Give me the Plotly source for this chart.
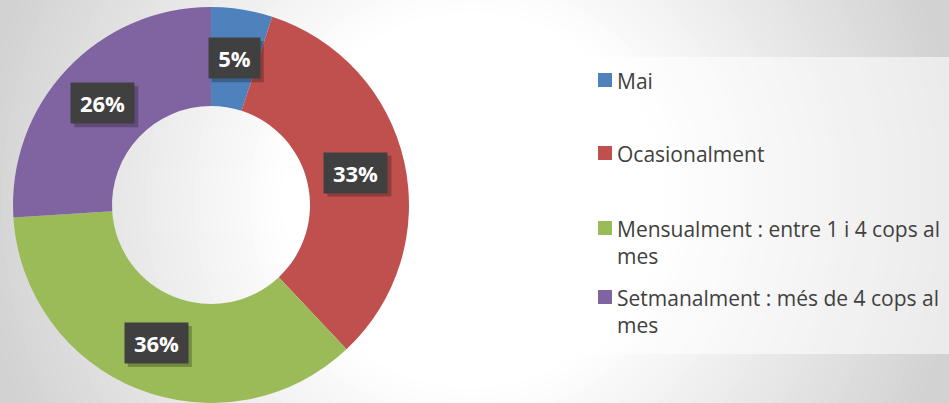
import math
import textwrap
import plotly.graph_objects as go

# ---- data ----
categories = [
    "Mai",
    "Ocasionalment",
    "Mensualment : entre 1 i 4 cops al mes",
    "Setmanalment : més de 4 cops al mes",
]
values = [5, 33, 36, 26]
colors = ["#4F81BD", "#C0504D", "#9BBB59", "#8064A2"]

# ---- canvas geometry (pixels) ----
W, H = 949, 403
CX, CY, R = 211, 205, 198
HOLE = 0.5


def px(x):
    return x / W


def py(y):
    return 1 - y / H


fig = go.Figure()
fig.add_trace(go.Pie(
    labels=categories,
    values=values,
    marker=dict(colors=colors, line=dict(width=0)),
    hole=HOLE,
    sort=False,
    direction="clockwise",
    rotation=0,
    textinfo="none",
    hoverinfo="label+percent",
    showlegend=False,
    domain=dict(x=[px(CX - R), px(CX + R)], y=[py(CY + R), py(CY - R)]),
))

shapes = []
# radial background gradient
GCX, GCY = 470, 200
r = 620
while r >= 170:
    t = min(1.0, max(0.0, (r - 190) / (500 - 190)))
    g = int(round(255 - t * (255 - 210)))
    shapes.append(dict(type="circle", xref="paper", yref="paper", layer="below",
                       x0=px(GCX - r), x1=px(GCX + r), y0=py(GCY + r), y1=py(GCY - r),
                       fillcolor=f"rgb({g},{g},{g})", line=dict(width=0)))
    r -= 8

# legend box
shapes.append(dict(type="rect", xref="paper", yref="paper", layer="below",
                   x0=px(586), x1=px(W + 5), y0=py(354), y1=py(57),
                   fillcolor="rgba(255,255,255,0.55)", line=dict(width=0)))

annotations = []
# data labels (dark boxes) at the middle of each ring segment
total = sum(values)
cum = 0
r_mid = R * (1 + HOLE) / 2
PAD = 7
for v in values:
    mid = (cum + v / 2) / total * 2 * math.pi
    cum += v
    lx = CX + r_mid * math.sin(mid)
    ly = CY - r_mid * math.cos(mid)
    txt = f"{round(v / total * 100)}%"
    tw = 12 * len(txt) + 13
    th = 26
    bw, bh = tw + 2 * PAD, th + 2 * PAD
    # soft drop shadow
    shapes.append(dict(type="rect", xref="paper", yref="paper", layer="above",
                       x0=px(lx - bw / 2 + 3), x1=px(lx + bw / 2 + 4),
                       y0=py(ly + bh / 2 + 4), y1=py(ly - bh / 2 + 3),
                       fillcolor="rgba(0,0,0,0.25)", line=dict(width=0)))
    annotations.append(dict(x=px(lx), y=py(ly), xref="paper", yref="paper",
                            xanchor="center", yanchor="middle",
                            width=tw, height=th,
                            text=f"<b>{txt}</b>", showarrow=False,
                            font=dict(family="Open Sans", size=22, color="white"),
                            bgcolor="#404040", borderpad=PAD))

# manual legend
legend_y = [80, 153, 228, 297]
for cat, col, yy in zip(categories, colors, legend_y):
    shapes.append(dict(type="rect", xref="paper", yref="paper",
                       x0=px(598), x1=px(612), y0=py(yy + 7), y1=py(yy - 7),
                       fillcolor=col, line=dict(width=0)))
    lines = textwrap.wrap(cat, width=34)
    annotations.append(dict(x=px(615), y=py(yy - 15), xref="paper", yref="paper",
                            xanchor="left", yanchor="top", align="left",
                            text="<br>".join(lines), showarrow=False,
                            font=dict(family="Open Sans", size=21, color="#404040")))

fig.update_layout(
    width=W, height=H,
    margin=dict(l=0, r=0, t=0, b=0),
    paper_bgcolor="rgb(210,210,210)",
    plot_bgcolor="rgba(0,0,0,0)",
    shapes=shapes,
    annotations=annotations,
    showlegend=False,
)

fig.write_html("out.html", config={"displayModeBar": False},
               post_script="document.body.style.margin='0';document.body.style.padding='0';")
